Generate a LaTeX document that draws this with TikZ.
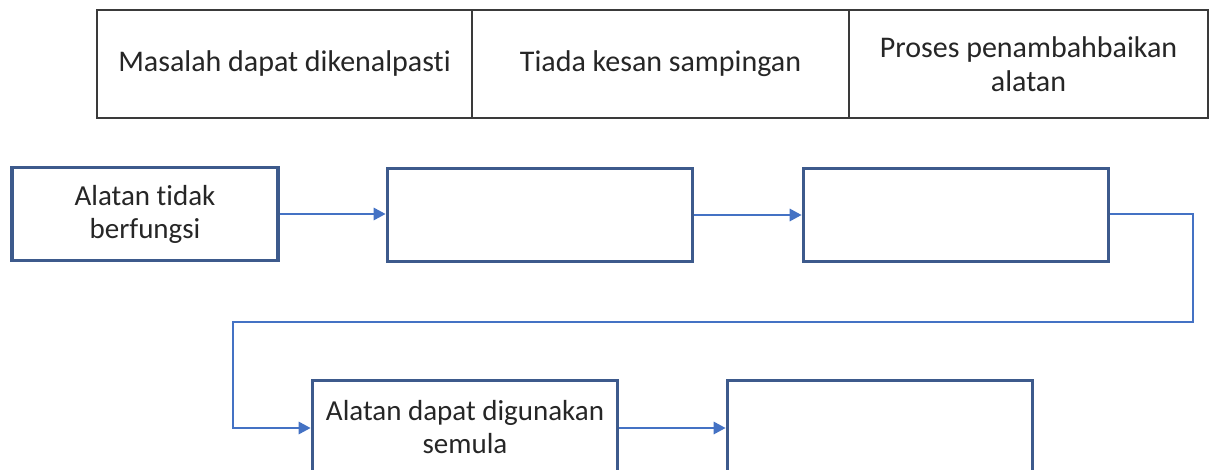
\documentclass[tikz,border=0pt]{standalone}
\usepackage{fontspec}
\setmainfont[Ligatures=NoCommon]{Carlito}
\usetikzlibrary{arrows.meta}
\definecolor{boxline}{HTML}{3D5A8C}
\definecolor{arrowc}{HTML}{4472C4}
\definecolor{tabline}{HTML}{3A3A3A}
\definecolor{txt}{HTML}{262626}
\tikzset{
  cell/.style={draw=tabline, line width=1.8pt, minimum height=108pt, inner sep=0pt, align=center, text=txt, font=\fontsize{30}{34}\selectfont},
  flowbox/.style={draw=boxline, line width=3.6pt, minimum height=93pt, inner sep=0pt, align=center, text=txt, font=\fontsize{29}{33}\selectfont},
  flowarrow/.style={draw=arrowc, line width=2.8pt, -{Triangle[length=12pt,width=12pt]}},
}
\begin{document}
\begin{tikzpicture}[x=1pt,y=-1pt]
\useasboundingbox (0,0) rectangle (1220,470);
\clip (0,0) rectangle (1220,470);
\fill[white] (0,0) rectangle (1220,470);
% table
\node[cell, minimum width=375pt] (c1) at (284.5,64) {Masalah dapat dikenalpasti};
\node[cell, minimum width=377pt] (c2) at (660.5,64) {Tiada kesan sampingan};
\node[cell, minimum width=359pt] (c3) at (1028.5,64) {Proses penambahbaikan\\alatan};
% flow boxes
\node[flowbox, minimum width=266pt] (b1) at (145,214) {Alatan tidak\\berfungsi};
\node[flowbox, minimum width=305pt] (b2) at (540,215) {};
\node[flowbox, minimum width=305pt] (b3) at (956,215) {};
\node[flowbox, minimum width=305pt] (b4) at (465,427) {Alatan dapat digunakan\\semula};
\node[flowbox, minimum width=305pt] (b5) at (880,427) {};
\coordinate (r1) at (1193,214);
\coordinate (r2) at (1193,322);
\coordinate (l1) at (233,322);
\coordinate (l2) at (233,428);
% connectors
\draw[flowarrow] (b1.east) -- (b1.east -| b2.west);
\draw[flowarrow] (b2.east) -- (b2.east -| b3.west);
\draw[flowarrow] (b3.east |- r1) -- (r1) -- (r2) -- (l1) -- (l2) -- (l2 -| b4.west);
\draw[flowarrow] (b4.east |- l2) -- (l2 -| b5.west);
\end{tikzpicture}
\end{document}
